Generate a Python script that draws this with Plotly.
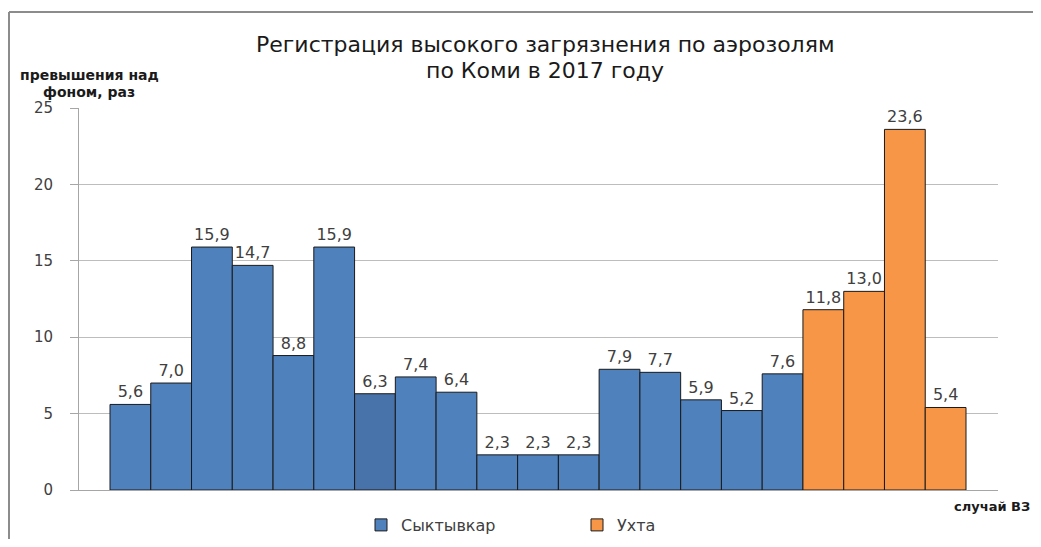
import plotly.graph_objects as go

# Data
syk_values = [5.6, 7.0, 15.9, 14.7, 8.8, 15.9, 6.3, 7.4, 6.4, 2.3, 2.3, 2.3, 7.9, 7.7, 5.9, 5.2, 7.6]
ukh_values = [11.8, 13.0, 23.6, 5.4]
series_names = ["Сыктывкар", "Ухта"]
y_ticks = [0, 5, 10, 15, 20, 25]

syk_x = list(range(len(syk_values)))
ukh_x = list(range(len(syk_values), len(syk_values) + len(ukh_values)))

blue = "#4F81BD"
blue_dark = "#4772AA"
orange = "#F79646"
syk_colors = [blue] * len(syk_values)
syk_colors[6] = blue_dark

# page body margin offset
O = 8
W, H = 1025, 531
L, R, T, B = 71, 35, 100, 49
pw = W - L - R
ph = H - T - B

def px_x(p):
    return (p - O - L) / pw

def px_y(p):
    return (H - B - (p - O)) / ph

def cx(p):
    return (p - O) / W

def cy(p):
    return (H - (p - O)) / H

label_font = dict(family="DejaVu Sans", size=16, color="#404040")

fig = go.Figure()
fig.add_trace(go.Bar(
    x=syk_x, y=syk_values, name=series_names[0], width=1,
    marker=dict(color=syk_colors, line=dict(color="#1A1A1A", width=1)),
    texttemplate="%{y:.1f}", textposition="outside", textfont=label_font,
    cliponaxis=False,
))
fig.add_trace(go.Bar(
    x=ukh_x, y=ukh_values, name=series_names[1], width=1,
    marker=dict(color=orange, line=dict(color="#1A1A1A", width=1)),
    texttemplate="%{y:.1f}", textposition="outside", textfont=label_font,
    cliponaxis=False,
))

fig.update_layout(
    width=W, height=H,
    margin=dict(l=L, r=R, t=T, b=B, autoexpand=False),
    paper_bgcolor="white", plot_bgcolor="white",
    separators=", ",
    barmode="overlay",
    showlegend=True,
    legend=dict(orientation="h", xref="container", yref="container",
                x=cx(361), xanchor="left", y=cy(525), yanchor="middle",
                font=dict(family="DejaVu Sans", size=16, color="#404040"),
                entrywidth=171, entrywidthmode="pixels", itemwidth=30,
                bgcolor="rgba(0,0,0,0)"),
    xaxis=dict(range=[-1.2605, 21.285], showticklabels=False, showgrid=False,
               zeroline=False, showline=True, linecolor="#A6A6A6", linewidth=1,
               ticks=""),
    yaxis=dict(range=[0, 25], tickvals=y_ticks, showgrid=True, gridcolor="#BDBDBD",
               gridwidth=1, zeroline=False, showline=True, linecolor="#A6A6A6",
               linewidth=1, ticks="outside", ticklen=8, tickcolor="#A6A6A6",
               ticklabelstandoff=14,
               tickfont=dict(family="DejaVu Sans", size=15, color="#404040")),
    font=dict(family="DejaVu Sans"),
)

title_font = dict(family="DejaVu Sans", size=22, color="#1A1A1A")
annotations = [
    dict(text="Регистрация высокого загрязнения по аэрозолям",
         x=px_x(545), y=px_y(44), xref="paper", yref="paper", showarrow=False,
         xanchor="center", yanchor="middle", font=title_font),
    dict(text="по Коми в 2017 году",
         x=px_x(545), y=px_y(70), xref="paper", yref="paper", showarrow=False,
         xanchor="center", yanchor="middle", font=title_font),
    dict(text="<b>превышения над</b>",
         x=px_x(89), y=px_y(75), xref="paper", yref="paper", showarrow=False,
         xanchor="center", yanchor="middle",
         font=dict(family="DejaVu Sans", size=14, color="#1A1A1A")),
    dict(text="<b>фоном, раз</b>",
         x=px_x(89), y=px_y(92), xref="paper", yref="paper", showarrow=False,
         xanchor="center", yanchor="middle",
         font=dict(family="DejaVu Sans", size=14, color="#1A1A1A")),
    dict(text="<b>случай ВЗ</b>",
         x=px_x(1032), y=px_y(506), xref="paper", yref="paper", showarrow=False,
         xanchor="right", yanchor="middle",
         font=dict(family="DejaVu Sans", size=13, color="#1A1A1A")),
]
fig.update_layout(annotations=annotations)

# outer chart frame (top and left edges visible)
fig.add_shape(type="line", xref="paper", yref="paper",
              x0=px_x(9), x1=px_x(1060), y0=px_y(12), y1=px_y(12),
              line=dict(color="#8C8C8C", width=2), layer="below")
fig.add_shape(type="line", xref="paper", yref="paper",
              x0=px_x(9), x1=px_x(9), y0=px_y(12), y1=px_y(580),
              line=dict(color="#8C8C8C", width=2), layer="below")

fig.write_html("out.html", config={"displayModeBar": False})
